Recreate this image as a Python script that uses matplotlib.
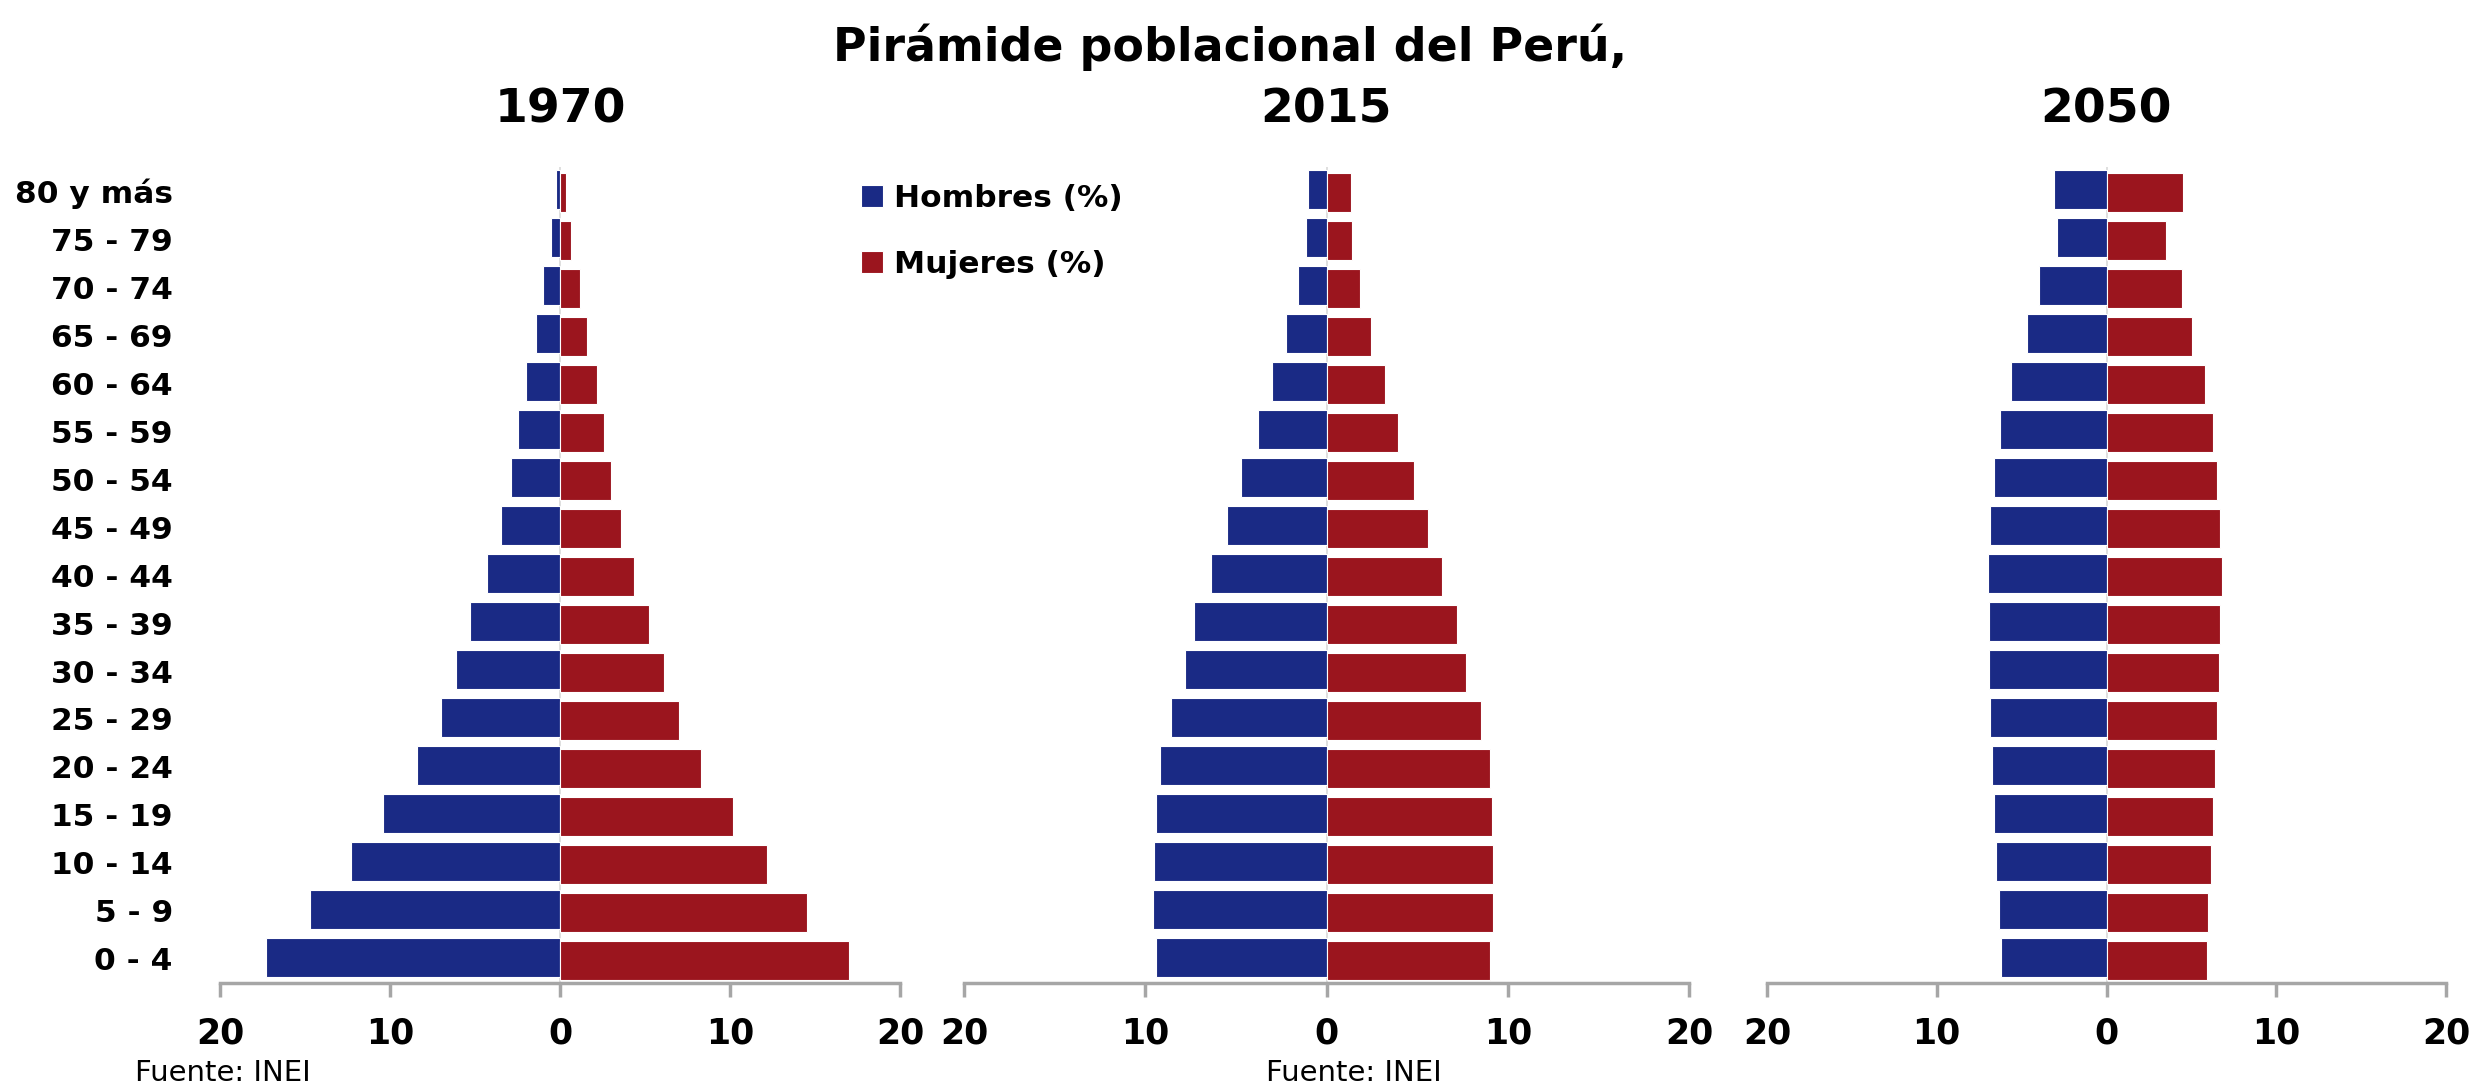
import matplotlib
matplotlib.use("Agg")
import matplotlib.pyplot as plt
from matplotlib.ticker import FuncFormatter
import numpy as np

plt.rcParams['font.family'] = ['DejaVu Sans']

# Grupos de edad (de abajo hacia arriba)
grupos = ["0 - 4", "5 - 9", "10 - 14", "15 - 19", "20 - 24", "25 - 29", "30 - 34",
          "35 - 39", "40 - 44", "45 - 49", "50 - 54", "55 - 59", "60 - 64",
          "65 - 69", "70 - 74", "75 - 79", "80 y más"]

# Porcentajes (mismo orden que grupos)
hombres_1970 = [17.3, 14.7, 12.3, 10.4, 8.4, 7.0, 6.1, 5.3, 4.3, 3.5, 2.9, 2.5, 2.0, 1.4, 1.0, 0.55, 0.25]
mujeres_1970 = [17.0, 14.5, 12.2, 10.2, 8.3, 7.0, 6.1, 5.25, 4.35, 3.6, 3.0, 2.6, 2.15, 1.6, 1.15, 0.65, 0.35]

hombres_2015 = [9.4, 9.6, 9.5, 9.4, 9.2, 8.6, 7.8, 7.3, 6.4, 5.5, 4.7, 3.8, 3.0, 2.25, 1.6, 1.15, 1.0]
mujeres_2015 = [9.0, 9.2, 9.2, 9.15, 9.0, 8.5, 7.7, 7.2, 6.35, 5.6, 4.85, 3.95, 3.2, 2.45, 1.85, 1.4, 1.35]

hombres_2050 = [6.2, 6.35, 6.5, 6.65, 6.75, 6.85, 6.9, 6.95, 7.0, 6.85, 6.6, 6.25, 5.6, 4.7, 3.95, 2.9, 3.1]
mujeres_2050 = [5.9, 6.0, 6.15, 6.3, 6.4, 6.5, 6.6, 6.7, 6.8, 6.7, 6.5, 6.3, 5.8, 5.05, 4.45, 3.5, 4.5]

anios = ["1970", "2015", "2050"]

AZUL = "#1A2A85"
ROJO = "#9B151E"
GRIS = "#A6A6A6"

W, H = 2471, 1087
fig = plt.figure(figsize=(W / 100, H / 100), dpi=100)

# posiciones de los paneles en pixeles (izquierda, ancho)
paneles = [(220, 680), (964, 725), (1767, 679)]
abajo = 1 - 983 / H
alto = (983 - 167) / H

datos = [(hombres_1970, mujeres_1970), (hombres_2015, mujeres_2015), (hombres_2050, mujeres_2050)]
y = np.arange(len(grupos))

ejes = []
for i, ((izq, ancho), (hom, muj)) in enumerate(zip(paneles, datos)):
    ax = fig.add_axes([izq / W, abajo, ancho / W, alto])
    ax.axvline(0, color="#D9D9D9", lw=1.2, zorder=0)
    ax.barh(y + 0.025, -np.array(hom), height=0.81, color=AZUL,
            edgecolor="white", linewidth=0.8, label="Hombres (%)", zorder=2)
    ax.barh(y - 0.025, muj, height=0.81, color=ROJO,
            edgecolor="white", linewidth=0.8, label="Mujeres (%)", zorder=2)
    ax.set_xlim(-20, 20)
    ax.set_ylim(-0.5, 16.5)
    ax.set_xticks([-20, -10, 0, 10, 20])
    ax.xaxis.set_major_formatter(FuncFormatter(lambda v, p: f"{abs(int(v))}"))
    for s in ["top", "left", "right"]:
        ax.spines[s].set_visible(False)
    ax.spines["bottom"].set_color(GRIS)
    ax.spines["bottom"].set_linewidth(2.5)
    ax.tick_params(axis="x", direction="out", length=10, width=2.5, color=GRIS,
                   pad=14, labelsize=25)
    for t in ax.get_xticklabels():
        t.set_fontweight("bold")
    if i == 0:
        ax.set_yticks(y)
        ax.set_yticklabels(grupos, fontsize=22.5, fontweight="bold")
        ax.tick_params(axis="y", length=0, pad=34)
    else:
        ax.set_yticks([])
    ax.set_title(anios[i], fontsize=34, fontweight="bold", pad=32)
    ejes.append(ax)

# Titulo general
fig.text(1230 / W, 1 - 61 / H, "Pirámide poblacional del Perú,", ha="center",
         va="baseline", fontsize=33, fontweight="bold")

# Leyenda (a nivel de figura para que no la tape el panel de 2015)
handles, labels = ejes[0].get_legend_handles_labels()
fig.legend(handles, labels, loc="center left", bbox_to_anchor=(861 / W, 1 - 231.5 / H),
           frameon=False, prop={"weight": "bold", "size": 22.5}, handlelength=0.7,
           handleheight=0.7, handletextpad=0.36, labelspacing=1.2,
           borderpad=0, borderaxespad=0)

# Fuente
fig.text(135 / W, 1 - 1073 / H, "Fuente: INEI", fontsize=21, va="center", ha="left")
fig.text(1266 / W, 1 - 1073 / H, "Fuente: INEI", fontsize=21, va="center", ha="left")

fig.savefig("out.png", dpi=100)
